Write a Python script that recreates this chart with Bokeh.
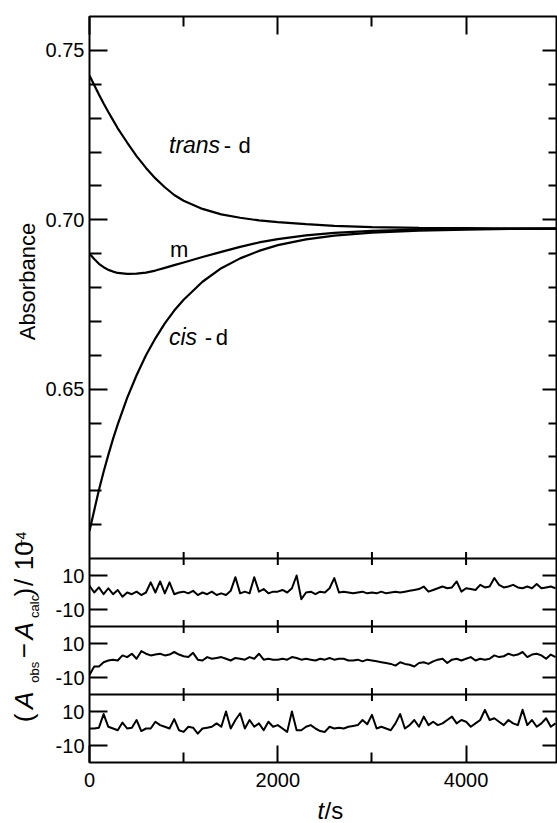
import math
from bokeh.plotting import figure
from bokeh.layouts import column, row
from bokeh.models import Range1d, LinearAxis, FixedTicker, CustomJSTickFormatter, Span, Label
from bokeh.embed import file_html
from bokeh.resources import INLINE

# ---------------- data ----------------
curve_t = [0, 50, 100, 150, 200, 250, 300, 400, 500, 600, 700, 800, 900, 1000,
           1200, 1400, 1600, 1800, 2000, 2300, 2600, 3000, 3500, 4000, 4500, 5000]
trans_d = [0.7426, 0.7398, 0.7370, 0.7343, 0.7318, 0.7294, 0.7270, 0.7228, 0.7188, 0.7153,
           0.7122, 0.7096, 0.7073, 0.7056, 0.7032, 0.7016, 0.7006, 0.6998, 0.6993, 0.6987,
           0.6982, 0.6978, 0.6976, 0.6975, 0.6974, 0.6974]
m_form = [0.6900, 0.6884, 0.6870, 0.6860, 0.6852, 0.6847, 0.6843, 0.6840, 0.6841, 0.6844,
          0.6850, 0.6858, 0.6866, 0.6874, 0.6890, 0.6905, 0.6920, 0.6933, 0.6943, 0.6954,
          0.6961, 0.6967, 0.6971, 0.6973, 0.6974, 0.6974]
cis_d = [0.6081, 0.6142, 0.6202, 0.6256, 0.6306, 0.6353, 0.6396, 0.6474, 0.6541, 0.6600,
         0.6650, 0.6694, 0.6732, 0.6764, 0.6817, 0.6857, 0.6886, 0.6908, 0.6925, 0.6942,
         0.6953, 0.6962, 0.6968, 0.6971, 0.6973, 0.6974]

res_t = list(range(0, 5000, 50))
res_1 = [4, 0, 3, -1, 2.5, -1, 1.5, -2.5, 0, -1,
         0.5, -1.5, 0, 6, 0, 6.5, -0.5, 6, -1, 0,
         0.5, -0.5, 1, -1.5, 0, -1, 0.5, -1.5, -0.5, -1.5,
         1, 9, -0.5, 0.5, -0.5, 9, 0.5, 2, -0.5, 0.5,
         0.5, 1.5, 0, 2.5, 10, -4, 0, 0.5, -1, 0.5,
         0, 2.5, 8.5, 0, 0.5, 0, -0.5, 0, 0.5, -0.5,
         0, -0.5, 0.5, -0.5, 0, 0.5, 0, 0.5, 1, 1.5,
         2, 3.5, 0.5, 1.5, 2.5, 3.5, 2.5, 3, 6.5, 0.5,
         2.5, 2, 1.5, 4.5, 3, 3.5, 8.5, 4.5, 3, 3.5,
         4.5, 3, 2.5, 3.5, 2.5, 5, 2.5, 3, 3.5, 2.5]
res_2 = [-8.5, -3.5, -3.5, -1, 0, 0.5, 0, 3, 2, 4,
         1, 5.5, 4, 3, 3.5, 4, 3, 3.5, 5, 3.5,
         2.5, 2, 4.5, 0.5, 0, 2, 1, 1.5, 2, 1,
         0, 1.5, 1, 0.5, 2, 1, 4, 0.5, 1, 0.5,
         0.5, 1, 0.5, 2, 1.5, 0.5, 1, 0.5, 0, 1,
         0.5, 1.5, 0.5, 1, 1, 0, 0, 0.5, -0.5, 0.5,
         0, -0.5, -1, -1.5, -2, -3, -1, -2, -2.5, -3.5,
         -1.5, -1, -2, -0.5, 0.5, 1, -1.5, 0.5, 1, 0,
         1, 2, 0, 1, 0.5, 1, 3, 2, 2.5, 4,
         3, 3.5, 5, 2, 3.5, 4, 3, 1, 3.5, 2]
res_3 = [0, 0, 0.5, 8.5, 1, 0, -1, 3.5, 0, 0.5,
         5, -1.5, 0, 0, 4, 2, 1, 0, 5.5, -1,
         -2, 1, 0.5, -3, 0, 0.5, 1, 3, 1, 10,
         0, 5, 9, 0, 5, 1, 3, -1, 4, 1,
         2, 0, -2, 10, -1, -1, 1, 2, 0, -1.5,
         -2, 1, 0, 0.5, 0, 1, 1.5, 2, 5, 2.5,
         8, 0, 1, 0, -1, 3, 8.5, 0, 2, 5,
         1, 7, 2, 4, 2, 3, 5, 7, 3, 5,
         4, 1, 3, 5, 11, 5, 6, 4, 2, 5,
         3, 2, 11, 2, 5, 1, 3, 6, 1, 3]

abs_major = [0.65, 0.70, 0.75]
abs_minor = [0.61, 0.62, 0.63, 0.64, 0.66, 0.67, 0.68, 0.69, 0.71, 0.72, 0.73, 0.74]
res_ticks = [-10, 10]
res_tick_labels = ["-10", "10"]
t_major = [0, 2000, 4000]
t_minor = [1000, 3000]

# ---------------- layout (page pixels) ----------------
PW, PH = 557, 823
LW = 42            # left strip holding the rotated titles
BH = 28            # bottom strip holding "t/s"
FL, FR, FT, FB = 86, 557, 16, 762
XS = 0.09475                      # px per second
X_END = (FR - FL) / XS
Y_TOP, Y_MAIN_BOTTOM = 0.76, 0.60
MAIN_BOTTOM_PX = 558
YS = (MAIN_BOTTOM_PX - FT) / (Y_TOP - Y_MAIN_BOTTOM)
Y_START = Y_MAIN_BOTTOM - (FB - MAIN_BOTTOM_PX) / YS
RS = 68 / 40.0                    # px per residual unit
bands = [(558, 626), (626, 694), (694, 762)]
MID = 0.35                        # baseline -> middle of text box, in em

SANS = "Liberation Sans"
MW, MH = PW - LW, PH - BH

p = figure(width=MW, height=MH, x_range=Range1d(0, X_END), y_range=Range1d(Y_START, Y_TOP),
           output_backend="svg", toolbar_location=None, x_axis_type=None, y_axis_type=None,
           min_border_left=FL - LW, min_border_right=0, min_border_top=FT,
           min_border_bottom=MH - FB)
p.outline_line_color = "black"
p.outline_line_width = 2
p.background_fill_color = "white"
p.border_fill_color = "white"

p.extra_y_ranges = {f"r{k}": Range1d(-20 - (FB - B) / RS, 20 + (T - FT) / RS)
                    for k, (T, B) in enumerate(bands)}


def band_to_main(k, v):
    T, _ = bands[k]
    py = T + (20 - v) * RS
    return Y_TOP - (py - FT) / YS


res_pos, res_lab = [], []
for k in range(3):
    for v, s in zip(res_ticks, res_tick_labels):
        res_pos.append(band_to_main(k, v))
        res_lab.append(s)

y_ticker = FixedTicker(ticks=abs_major + res_pos, minor_ticks=abs_minor)
y_fmt = CustomJSTickFormatter(args=dict(pos=res_pos, lab=res_lab), code="""
if (tick > 0.595) { return tick.toFixed(2); }
for (let i = 0; i < pos.length; i++) {
  if (Math.abs(pos[i] - tick) < 1e-7) { return lab[i]; }
}
return "";
""")
blank = CustomJSTickFormatter(code="return '';")

common = dict(axis_line_color=None, major_tick_out=0, minor_tick_out=0,
              major_tick_line_width=2, minor_tick_line_width=2,
              major_tick_line_color="black", minor_tick_line_color="black")

left = LinearAxis(ticker=y_ticker, formatter=y_fmt, major_tick_in=18, minor_tick_in=12,
                  major_label_standoff=5, major_label_text_font=SANS,
                  major_label_text_font_size="20px", major_label_text_color="black", **common)
p.add_layout(left, "left")
right = LinearAxis(ticker=y_ticker, formatter=blank, major_tick_in=15, minor_tick_in=9,
                   major_label_standoff=0, major_label_text_font_size="0px", **common)
p.add_layout(right, "right")

x_ticker = FixedTicker(ticks=t_major, minor_ticks=t_minor)
bottom = LinearAxis(ticker=x_ticker, major_tick_in=17, minor_tick_in=10,
                    major_label_standoff=10, major_label_text_font=SANS,
                    major_label_text_font_size="20px", major_label_text_color="black", **common)
p.add_layout(bottom, "below")
top = LinearAxis(ticker=x_ticker, formatter=blank, major_tick_in=18, minor_tick_in=10,
                 major_label_standoff=0, major_label_text_font_size="0px", **common)
p.add_layout(top, "above")

# panel separators
p.add_layout(Span(location=Y_MAIN_BOTTOM, dimension="width", line_color="black", line_width=2))
p.add_layout(Span(location=-20, dimension="width", y_range_name="r0", line_color="black", line_width=2))
p.add_layout(Span(location=-20, dimension="width", y_range_name="r1", line_color="black", line_width=2))

# crossing ticks on the inner boundaries
inner_x = [t for t in sorted(t_major + t_minor) if t > 0]
half = 6.5 / RS
for rname, yv in [("r0", 20), ("r0", -20), ("r1", -20)]:
    p.segment(x0=inner_x, y0=[yv - half] * len(inner_x), x1=inner_x, y1=[yv + half] * len(inner_x),
              y_range_name=rname, line_color="black", line_width=2)

# curves
for series in (trans_d, m_form, cis_d):
    p.line(curve_t, series, line_color="black", line_width=2.2)

# residuals
for k, series in enumerate((res_1, res_2, res_3)):
    p.line(res_t, series, y_range_name=f"r{k}", line_color="black", line_width=2,
           line_join="round")


def main_lab(text, cx, base_y, size, style="normal"):
    cy = base_y - MID * size
    p.add_layout(Label(x=(cx - FL) / XS, y=Y_TOP - (cy - FT) / YS, text=text,
                       text_font=SANS, text_font_size=f"{size}px", text_font_style=style,
                       text_align="left", text_baseline="middle", text_color="black"))


main_lab("trans", 166, 153, 23, style="italic")
main_lab("-", 221, 153, 22)
main_lab("d", 236, 153, 22)
main_lab("m", 167, 257, 22)
main_lab("cis", 166, 345, 23, style="italic")
main_lab("-", 202, 345, 22)
main_lab("d", 213, 345, 22)

# ---------------- left strip: rotated titles (pixel coordinates) ----------------
lf = figure(width=LW, height=MH, x_range=Range1d(0, LW), y_range=Range1d(MH, 0),
            output_backend="svg", toolbar_location=None, x_axis_type=None, y_axis_type=None,
            min_border=0, outline_line_color=None)
lf.border_fill_color = "white"
R = math.pi / 2


def side_lab(fig, text, px, py, size, style="normal", angle=0.0, align="left"):
    fig.add_layout(Label(x=px, y=py, text=text, text_font=SANS, text_font_size=f"{size}px",
                         text_font_style=style, angle=angle, text_align=align,
                         text_baseline="middle", text_color="black"))


def rot_lab(text, base_x, start_y, size, style="normal", align="left"):
    # rotated 90 deg: glyphs rise towards smaller x, so the middle sits left of the baseline
    side_lab(lf, text, base_x - MID * size, start_y, size, style=style, angle=R, align=align)


rot_lab("Absorbance", 35, 282.5, 22, align="center")
rot_lab("(", 33, 752, 26)
rot_lab("A", 33, 738, 26, style="italic")
rot_lab("obs", 39, 710, 13)
rot_lab("\u2212", 33, 684, 26)
rot_lab("A", 33, 664, 26, style="italic")
rot_lab("calc", 39, 641, 13)
rot_lab(")", 33, 618, 26)
rot_lab("/", 33, 607, 26)
rot_lab("10", 33, 590, 26)
rot_lab("\u22124", 25, 566, 14)

# ---------------- bottom strip: "t/s" ----------------
bf = figure(width=PW, height=BH, x_range=Range1d(0, PW), y_range=Range1d(BH, 0),
            output_backend="svg", toolbar_location=None, x_axis_type=None, y_axis_type=None,
            min_border=0, outline_line_color=None)
bf.border_fill_color = "white"
T_BASE = 818 - MH
side_lab(bf, "t", 317, T_BASE - MID * 24, 24, style="italic")
side_lab(bf, "/s", 324, T_BASE - MID * 24, 24)

layout = column(row(lf, p, spacing=0), bf, spacing=0)
open("out.html", "w").write(file_html(layout, INLINE))
